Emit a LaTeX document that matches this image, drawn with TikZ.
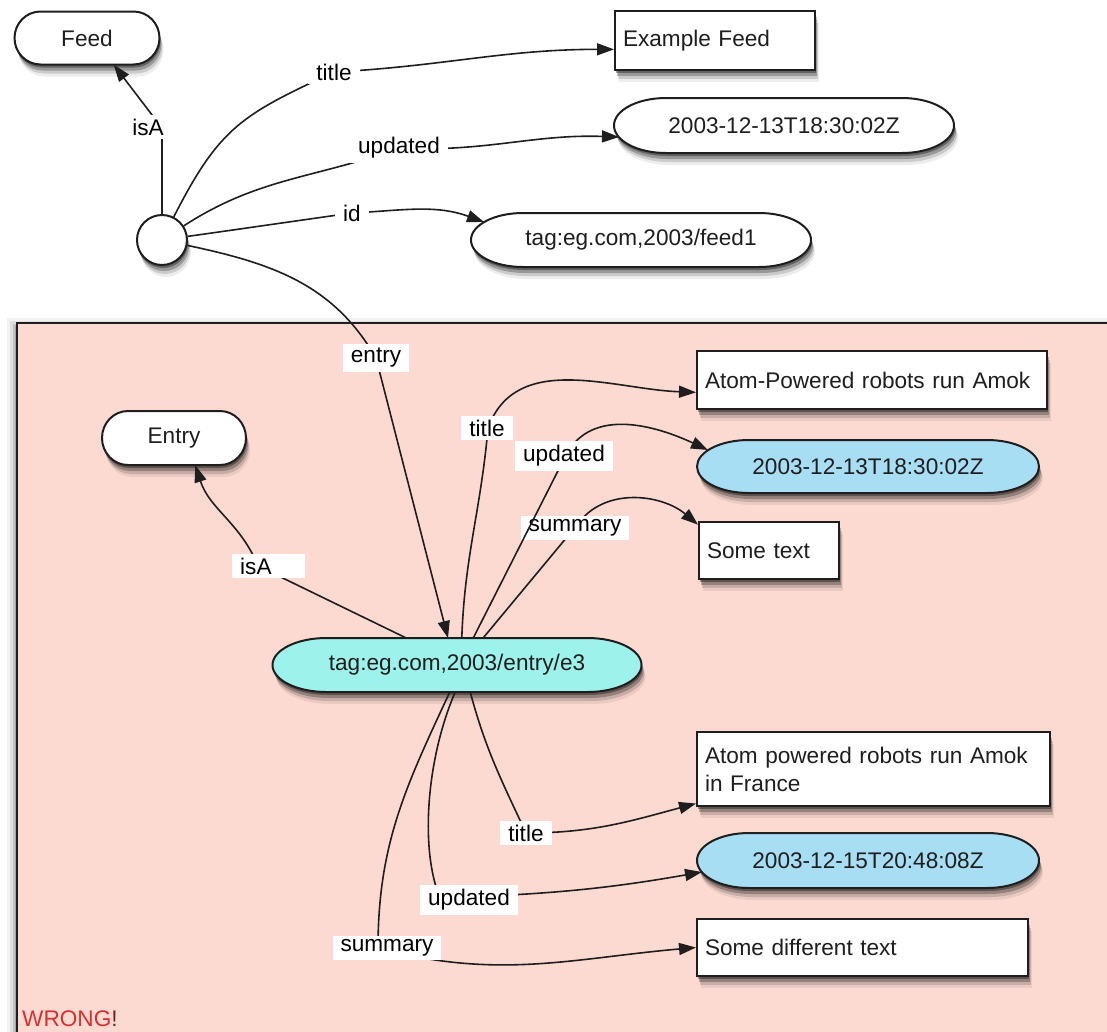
\documentclass[tikz,border=0pt]{standalone}
\usepackage{fontspec}
\setmainfont{Liberation Sans}
\usetikzlibrary{arrows.meta,shadows,calc}
\definecolor{pinkbg}{RGB}{252,218,210}
\definecolor{cyanfill}{RGB}{158,242,236}
\definecolor{bluefill}{RGB}{168,222,244}
\definecolor{ink}{RGB}{30,30,30}
\definecolor{wrongred}{RGB}{214,48,48}
\definecolor{bangred}{RGB}{120,30,30}
\tikzset{
  shd/.style={drop shadow={shadow xshift=1pt,shadow yshift=-3pt,opacity=.35,fill=black},
              drop shadow={shadow xshift=2pt,shadow yshift=-6pt,opacity=.25,fill=black},
              drop shadow={shadow xshift=3pt,shadow yshift=-9pt,opacity=.14,fill=black},
              drop shadow={shadow xshift=4pt,shadow yshift=-12pt,opacity=.07,fill=black}},
  outl/.style={draw=ink, line width=2pt},
  boxst/.style={rectangle, outl, fill=white, inner xsep=8pt, inner ysep=0pt, align=left, text=ink, shd},
  ovt/.style={rectangle, inner sep=0pt, text=ink},
  circst/.style={circle, outl, fill=white, inner sep=0pt, minimum size=50pt, shd},
  ed/.style={draw=ink, line width=1.6pt, -{Triangle[length=17pt,width=12pt]}},
  lab/.style={fill=white, inner xsep=8pt, inner ysep=4pt, text=black},
}
% name, cx, cy, half width, half height, end radius, fill, text
\newcommand\ovalnode[8]{%
  \path[outl, fill=#7, shd] ({#2-#4+#6},{#3-#5}) -- ({#2+#4-#6},{#3-#5})
    arc[start angle=90,end angle=-90,x radius=#6pt,y radius=#5pt]
    -- ({#2-#4+#6},{#3+#5})
    arc[start angle=270,end angle=90,x radius=#6pt,y radius=#5pt] -- cycle;
  \node[ovt, minimum width=2*#4, minimum height=2*#5] (#1) at (#2,#3) {#8};}
\begin{document}
\begin{tikzpicture}[x=1pt,y=-1pt,font=\fontsize{22.6}{28}\selectfont]
\useasboundingbox (0,0) rectangle (1107,1031);
\clip (0,0) rectangle (1107,1031);
\fill[white] (0,0) rectangle (1107,1031);

% pink frame with soft shadow
\foreach \sk/\so in {10/0.05,7/0.08,4/0.12,2/0.15}
  \fill[black,opacity=\so] (17-\sk,323-\sk+5) rectangle (1130,1050);
\draw[draw=ink, line width=2pt, fill=pinkbg] (17,323) rectangle (1130,1050);

% top nodes
\ovalnode{feed}{87}{38}{72.5}{26.5}{26}{white}{Feed}
\node[circst] (c) at (162,240) {};
\node[boxst, minimum height=59pt, text width=184pt] (ef) at (715,40.5) {Example Feed};
\ovalnode{upd}{784}{125.5}{170}{27.5}{52}{white}{2003-12-13T18:30:02Z}
\ovalnode{idn}{641}{240}{170}{27}{52}{white}{tag:eg.com,2003/feed1}

% entry nodes
\ovalnode{entry}{174}{438}{72}{27}{26}{white}{Entry}
\ovalnode{e3}{457}{665}{184.5}{27}{54}{cyanfill}{tag:eg.com,2003/entry/e3}
\node[boxst, minimum height=58pt, text width=334pt] (ap) at (872,380) {Atom-Powered robots run Amok};
\ovalnode{d1}{868}{466.5}{171}{26.5}{52}{bluefill}{2003-12-13T18:30:02Z}
\node[boxst, minimum height=57pt, text width=124pt] (st) at (769,550.5) {Some text};
\node[boxst, minimum height=74pt, text width=337pt] (fr) at (873.5,769) {Atom powered robots run Amok\\in France};
\ovalnode{d2}{868}{860.5}{171}{27.5}{52}{bluefill}{2003-12-15T20:48:08Z}
\node[boxst, minimum height=57pt, text width=315pt] (sdt) at (862.5,947.5) {Some different text};

% path points through the labels
\coordinate (pt1) at (334,72);
\coordinate (pi1) at (162,128);
\coordinate (pu1) at (399,148);
\coordinate (pid) at (352,213);
\coordinate (pe) at (376,358);
\coordinate (pt2) at (488,428);
\coordinate (pu2) at (566,455);
\coordinate (ps2) at (577,525);
\coordinate (pia) at (258,566);
\coordinate (pt3) at (526,833);
\coordinate (pu3) at (440,898);
\coordinate (ps3) at (378,948);

% feed edges
\draw[ed] (c) to[out=90,in=-90] (pi1) -- (feed.-45);
\draw[ed] (c) to[out=63,in=-155,looseness=1.2] (pt1) to[out=3,in=180] (ef.185);
\draw[ed] (c) to[out=33,in=-160] (pu1) to[out=-3,in=178] ($(upd.center)+(-165,11.5)$);
\draw[ed] (c) to[out=8,in=-172] (pid) to[out=3,in=160] ($(idn.center)+(-157,-18)$);
\draw[ed] (c) to[out=-12,in=120] (pe) -- ($(e3.center)+(-9,-27)$);

% entry edges
\draw[ed] (e3.152) -- (pia) to[out=112,in=-72] (entry.-52);
\draw[ed] (e3.80) to[out=88,in=-95] (pt2) to[out=70,in=178] (ap.184);
\draw[ed] (e3.46) -- (ps2) to[out=55,in=140] (st.160);
\draw[ed] (e3.-64) to[out=-75,in=115] (pt3) to[out=0,in=195] (fr.191);
\draw[ed] (e3.-94) .. controls (426,760) and (420,850) .. (pu3) to[out=2,in=190] ($(d2.center)+(-166,11.5)$);
\draw[ed] (e3.-105) to[out=-115,in=90] (ps3) to[out=-15,in=185] (sdt.west);

% labels
\node[lab] (lt1) at (334,72) {title};
\node[lab] (li1) at (148,127) {isA};
\node[lab] (lu1) at (399,148) {updated};
\node[lab] (lid) at (352,213) {id};
\node[lab] (le) at (376,358) {entry};
\node[lab] (lt2) at (487,428) {title};
\node[lab] (ls2) at (575,528) {summary};
\node[lab, anchor=west, text width=57pt, align=left] (lia) at (232,566) {isA};
\node[lab] (lt3) at (526,833) {title};
\node[lab] (lu3) at (469,900) {updated};
\node[lab] (ls3) at (387,948) {summary};

% updated edge crosses the summary label
\draw[ed] (e3.59) -- (pu2) to[out=62,in=155] ($(d1.center)+(-160,-16.5)$);
\node[lab] (lu2) at (564,456) {updated};

\node[anchor=west, inner sep=0pt, text=wrongred] (wrong) at (22,1019) {WRONG\textcolor{bangred}{!}};
\end{tikzpicture}
\end{document}
